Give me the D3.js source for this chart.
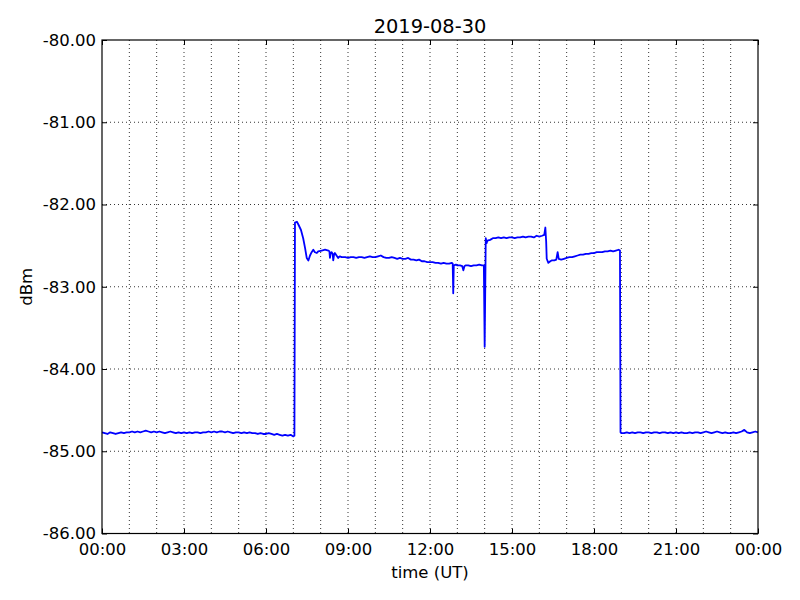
<!DOCTYPE html>
<html>
<head>
<meta charset="utf-8">
<script src="https://cdn.jsdelivr.net/npm/d3@7"></script>
<style>
  body { margin: 0; background: #fff; }
  svg { font-family: "DejaVu Sans", sans-serif; }
</style>
</head>
<body>
<svg id="chart" width="800" height="600"></svg>
<script>
(function () {
  // Data: hours after 2019-08-30 00:00 UT and received level in dBm
  var TITLE = '2019-08-30'
  var hours = [
    0.0, 0.1, 0.2, 0.3, 0.4, 0.5, 0.6, 0.7, 0.8, 0.9,
    1.0, 1.1, 1.2, 1.3, 1.4, 1.5, 1.6, 1.7, 1.8, 1.9,
    2.0, 2.1, 2.2, 2.3, 2.4, 2.5, 2.6, 2.7, 2.8, 2.9,
    3.0, 3.1, 3.2, 3.3, 3.4, 3.5, 3.6, 3.7, 3.8, 3.9,
    4.0, 4.1, 4.2, 4.3, 4.4, 4.5, 4.6, 4.7, 4.8, 4.9,
    5.0, 5.1, 5.2, 5.3, 5.4, 5.5, 5.6, 5.7, 5.8, 5.9,
    6.0, 6.1, 6.2, 6.3, 6.4, 6.5, 6.6, 6.7, 6.8, 6.9, 7.0,
    7.04, 7.06, 7.13, 7.18, 7.28, 7.36, 7.43, 7.49, 7.55, 7.61,
    7.67, 7.73, 7.79, 7.86, 7.91, 8.04, 8.16, 8.28, 8.32, 8.34,
    8.37, 8.40, 8.44, 8.46, 8.49, 8.52, 8.58, 8.64, 8.70, 8.77,
    8.9, 9.0, 9.1,
    9.2, 9.3, 9.4, 9.5, 9.6, 9.7, 9.8, 9.9, 10.0, 10.1,
    10.2, 10.3, 10.4, 10.5, 10.6, 10.7, 10.8, 10.9, 11.0, 11.1,
    11.2, 11.3, 11.4, 11.5, 11.6, 11.7, 11.8, 11.9, 12.0, 12.1,
    12.2, 12.3, 12.4, 12.5, 12.6, 12.7, 12.8, 12.83, 12.85, 12.87,
    12.95, 13.0, 13.1, 13.18, 13.22, 13.26, 13.3, 13.4, 13.5, 13.6,
    13.7, 13.8, 13.9, 13.97, 14.0, 14.04, 14.07, 14.1, 14.2, 14.3,
    14.4, 14.5, 14.6, 14.7, 14.8, 14.9, 15.0, 15.1, 15.2, 15.3,
    15.4, 15.5, 15.6, 15.7, 15.8, 15.9, 16.0, 16.1, 16.18, 16.22,
    16.25, 16.27, 16.33, 16.4, 16.45, 16.55, 16.62, 16.67, 16.71, 16.8,
    16.9, 17.0, 17.1, 17.2, 17.3, 17.4, 17.5, 17.6, 17.7, 17.8,
    17.9, 18.0, 18.1, 18.2, 18.3, 18.4, 18.5, 18.6, 18.7, 18.8,
    18.9, 18.95, 18.97, 19.0,
    19.1, 19.2, 19.3, 19.4, 19.5, 19.6, 19.7, 19.8, 19.9, 20.0,
    20.1, 20.2, 20.3, 20.4, 20.5, 20.6, 20.7, 20.8, 20.9, 21.0,
    21.1, 21.2, 21.3, 21.4, 21.5, 21.6, 21.7, 21.8, 21.9, 22.0,
    22.1, 22.2, 22.3, 22.4, 22.5, 22.6, 22.7, 22.8, 22.9, 23.0,
    23.1, 23.2, 23.3, 23.4, 23.5, 23.6, 23.7, 23.8, 23.9, 24.0
  ]
  var dbm = [
    -84.77, -84.78, -84.79, -84.77, -84.78, -84.79, -84.78, -84.77, -84.78, -84.77,
    -84.77, -84.76, -84.77, -84.76, -84.77, -84.76, -84.75, -84.76, -84.77, -84.76,
    -84.77, -84.76, -84.77, -84.78, -84.77, -84.76, -84.77, -84.78, -84.77, -84.78,
    -84.77, -84.78, -84.77, -84.78, -84.77, -84.77, -84.78, -84.77, -84.77, -84.76,
    -84.77, -84.76, -84.77, -84.76, -84.76, -84.77, -84.76, -84.77, -84.78, -84.77,
    -84.77, -84.78, -84.77, -84.78, -84.77, -84.78, -84.78, -84.79, -84.78, -84.79,
    -84.79, -84.78, -84.79, -84.80, -84.79, -84.80, -84.81, -84.80, -84.81, -84.80, -84.82,
    -84.81, -82.22, -82.21, -82.24, -82.31, -82.41, -82.53, -82.65, -82.68, -82.62,
    -82.58, -82.55, -82.58, -82.59, -82.57, -82.56, -82.55, -82.56, -82.57, -82.65,
    -82.59, -82.58, -82.60, -82.68, -82.61, -82.59, -82.62, -82.65, -82.63, -82.64,
    -82.64, -82.65, -82.64,
    -82.64, -82.65, -82.64, -82.64, -82.65, -82.64, -82.63, -82.64, -82.64, -82.63,
    -82.62, -82.64, -82.65, -82.65, -82.64, -82.65, -82.66, -82.65, -82.66, -82.66,
    -82.65, -82.67, -82.67, -82.68, -82.67, -82.69, -82.69, -82.70, -82.70, -82.70,
    -82.71, -82.71, -82.72, -82.71, -82.72, -82.72, -82.71, -82.72, -83.08, -82.74,
    -82.73, -82.74, -82.74, -82.75, -82.80, -82.75, -82.74, -82.74, -82.75, -82.74,
    -82.74, -82.73, -82.74, -82.74, -83.73, -82.41, -82.47, -82.44, -82.43, -82.41,
    -82.41, -82.40, -82.41, -82.40, -82.41, -82.40, -82.40, -82.41, -82.40, -82.40,
    -82.39, -82.40, -82.39, -82.39, -82.40, -82.38, -82.39, -82.38, -82.37, -82.28,
    -82.45, -82.66, -82.71, -82.69, -82.68, -82.68, -82.67, -82.58, -82.66, -82.67,
    -82.66, -82.65, -82.64, -82.64, -82.63, -82.62, -82.61, -82.61, -82.60, -82.60,
    -82.59, -82.59, -82.58, -82.58, -82.58, -82.57, -82.57, -82.56, -82.57, -82.56,
    -82.55, -82.56, -84.77, -84.78,
    -84.78, -84.77, -84.78, -84.77, -84.78, -84.77, -84.77, -84.78, -84.77, -84.77,
    -84.78, -84.77, -84.77, -84.78, -84.77, -84.77, -84.78, -84.77, -84.78, -84.77,
    -84.78, -84.77, -84.78, -84.78, -84.77, -84.78, -84.77, -84.77, -84.78, -84.77,
    -84.76, -84.77, -84.78, -84.77, -84.76, -84.77, -84.78, -84.77, -84.78, -84.78,
    -84.77, -84.78, -84.77, -84.76, -84.74, -84.77, -84.78, -84.77, -84.76, -84.77
  ]
  var yTicks = [-86, -85, -84, -83, -82, -81, -80]

  var WIDTH = 800
  var HEIGHT = 600
  var margin = { top: 40, right: 42, bottom: 66.5, left: 102 }
  var innerW = WIDTH - margin.left - margin.right
  var innerH = HEIGHT - margin.top - margin.bottom

  var day0 = Date.UTC(2019, 7, 30)
  function toDate (h) { return new Date(day0 + h * 3600e3) }

  var x = d3.scaleUtc()
    .domain([toDate(0), toDate(24)])
    .range([0, innerW])
  var y = d3.scaleLinear()
    .domain([-86, -80])
    .range([innerH, 0])

  var svg = d3.select('#chart')
  var g = svg.append('g')
    .attr('transform', 'translate(' + margin.left + ',' + margin.top + ')')

  // Dotted grid: every hour on x, every dBm on y
  var hourTicks = x.ticks(d3.utcHour.every(1))
  var grid = g.append('g').classed('grid', true)
  grid.selectAll('line.v')
    .data(hourTicks.slice(1, -1))
    .enter().append('line')
    .attr('class', 'v')
    .attr('x1', function (d) { return x(d) })
    .attr('x2', function (d) { return x(d) })
    .attr('y1', 0)
    .attr('y2', innerH)
  grid.selectAll('line.h')
    .data(yTicks.slice(1, -1))
    .enter().append('line')
    .attr('class', 'h')
    .attr('x1', 0)
    .attr('x2', innerW)
    .attr('y1', function (d) { return y(d) })
    .attr('y2', function (d) { return y(d) })
  grid.selectAll('line')
    .attr('stroke', '#000')
    .attr('stroke-width', 0.8)
    .attr('stroke-dasharray', '1,3')

  // Axes, ticks point inward as in the classic style
  var fmt = d3.utcFormat('%H:%M')
  var yFmt = function (d) { return d.toFixed(2) }
  var xTicks = x.ticks(d3.utcHour.every(3))
  var xAxis = d3.axisBottom(x).tickValues(xTicks).tickFormat(fmt)
    .tickSizeInner(-5).tickSizeOuter(0).tickPadding(10)
  var xTop = d3.axisTop(x).tickValues(xTicks).tickFormat('')
    .tickSizeInner(-5).tickSizeOuter(0)
  var yAxis = d3.axisLeft(y).tickValues(yTicks).tickFormat(yFmt)
    .tickSizeInner(-5).tickSizeOuter(0).tickPadding(6)
  var yRight = d3.axisRight(y).tickValues(yTicks).tickFormat('')
    .tickSizeInner(-5).tickSizeOuter(0)

  g.append('g').attr('transform', 'translate(0,' + innerH + ')').call(xAxis)
  g.append('g').call(xTop)
  g.append('g').call(yAxis)
  g.append('g').attr('transform', 'translate(' + innerW + ',0)').call(yRight)

  g.selectAll('.domain').remove()
  g.selectAll('.tick line').attr('stroke', '#000').attr('stroke-width', 1)
  g.selectAll('.tick text')
    .attr('fill', '#000')
    .style('font-size', '16.5px')
    .style('font-family', '"DejaVu Sans", sans-serif')

  // Data line
  var line = d3.line()
    .x(function (d, i) { return x(toDate(hours[i])) })
    .y(function (d) { return y(d) })
  g.append('path')
    .datum(dbm)
    .attr('d', line)
    .attr('fill', 'none')
    .attr('stroke', '#0000ff')
    .attr('stroke-width', 1.8)
    .attr('stroke-linejoin', 'round')

  // Frame
  g.append('rect')
    .attr('width', innerW)
    .attr('height', innerH)
    .attr('fill', 'none')
    .attr('stroke', '#000')
    .attr('stroke-width', 1.2)

  // Labels
  svg.append('text')
    .attr('x', margin.left + innerW / 2)
    .attr('y', 33)
    .attr('text-anchor', 'middle')
    .style('font-size', '19.4px')
    .text(TITLE)
  svg.append('text')
    .attr('x', margin.left + innerW / 2)
    .attr('y', 578)
    .attr('text-anchor', 'middle')
    .style('font-size', '16.5px')
    .text('time (UT)')
  svg.append('text')
    .attr('transform', 'translate(32,' + (margin.top + innerH / 2) + ') rotate(-90)')
    .attr('text-anchor', 'middle')
    .style('font-size', '16.5px')
    .text('dBm')
})()
</script>
</body>
</html>
